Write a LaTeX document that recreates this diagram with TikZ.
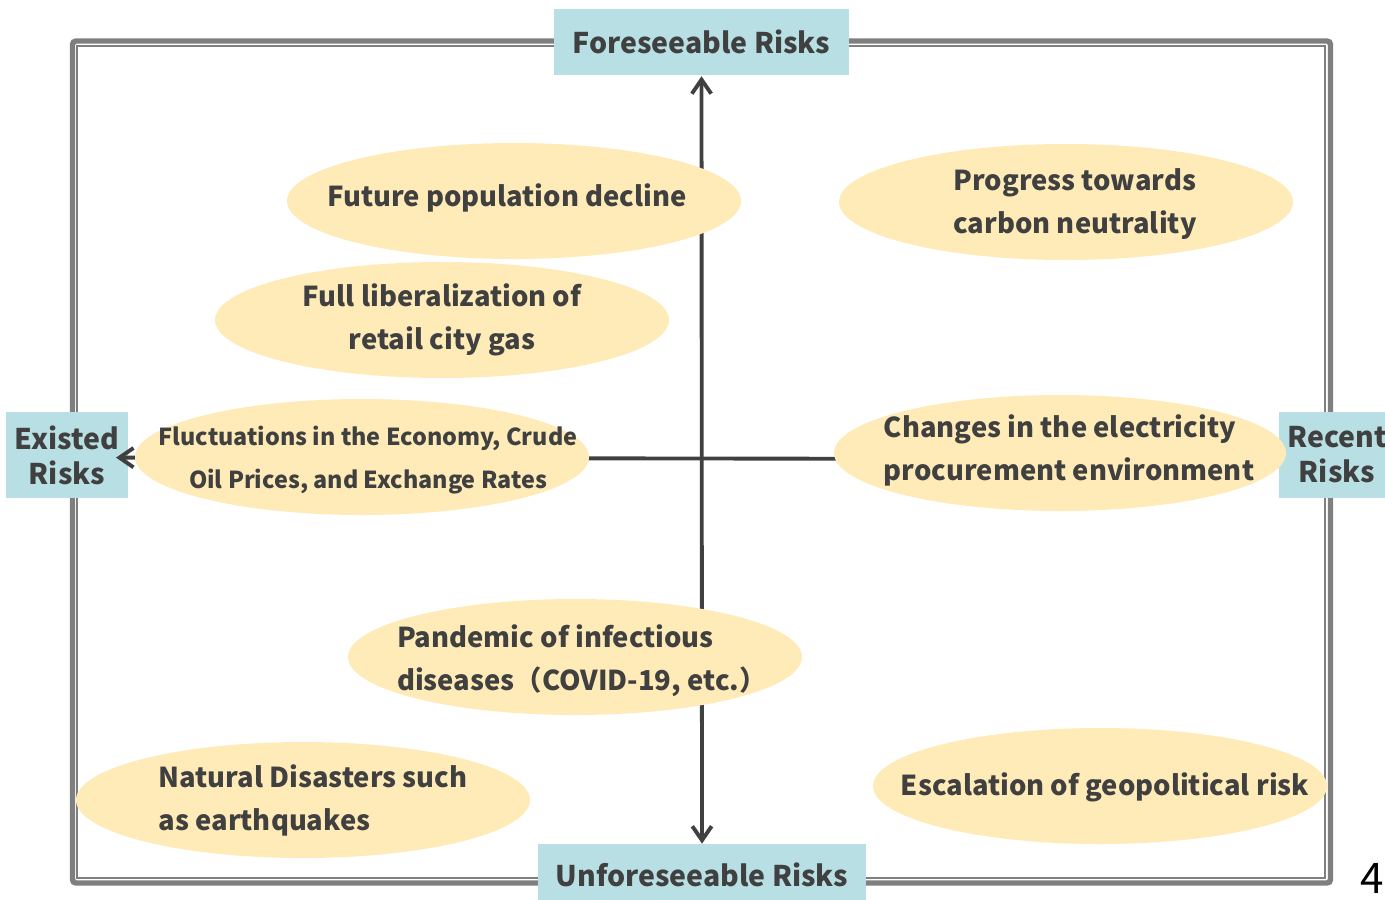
\documentclass[tikz,border=0pt]{standalone}
\usepackage{fontspec}
\setmainfont{Noto Sans CJK JP}
\usepackage{tikz}
\usetikzlibrary{arrows.meta}

\definecolor{boxteal}{HTML}{B8DFE3}
\definecolor{ovalcream}{HTML}{FFEBB8}
\definecolor{inkgray}{HTML}{404040}
\definecolor{framegray}{HTML}{7F7F7F}

\begin{document}
\begin{tikzpicture}[x=0.02cm, y=-0.02cm,
    riskbox/.style   = {fill=boxteal, text=inkgray, inner sep=0pt, align=center,
                        font=\bfseries\fontsize{16.2}{20}\selectfont},
    oval/.style      = {fill=ovalcream},
    ovaltext/.style  = {text=inkgray, inner sep=0pt,
                        font=\bfseries\fontsize{15.6}{24.5}\selectfont},
    axis/.style      = {draw=inkgray, line width=2.2pt,
                        >={Straight Barb[length=8pt,width=11pt]}}]

       \useasboundingbox             (0,0) rectangle (1385,899);

        \draw [framegray, line width=3.1pt, rounded corners=2pt]  (72.5,41) rectangle (1330.5,883);
        \draw [framegray, line width=1.1pt]                        (77,46)   rectangle (1325,878);

        \node [riskbox, minimum width=5.9cm,  minimum height=1.32cm] (foresee)   at (701.5,42)  {Foreseeable Risks};
        \node [riskbox, minimum width=6.56cm, minimum height=1.24cm] (unforesee) at (702,875)   {Unforeseeable Risks};
        \node [riskbox, minimum width=2.44cm, minimum height=1.72cm] (existed)   at (67,455)    {Existed\\Risks};
        \node [riskbox, minimum width=2.32cm, minimum height=1.72cm] (recent)    at (1337,455)  {Recent\\Risks};

        \draw [axis, <->, shorten <=0.5pt, shorten >=0pt]  (foresee.south) -- (unforesee.north);
        \draw [axis, ->, shorten >=-7pt]                   ([yshift=-2.5pt]recent.west) -- ([yshift=-1.5pt]existed.east);

        % ovals
        \fill [oval] (514,201)  ellipse [x radius=227, y radius=58];
        \fill [oval] (1066,202) ellipse [x radius=227, y radius=58];
        \fill [oval] (442,320)  ellipse [x radius=227, y radius=58];
        \fill [oval] (362,457)  ellipse [x radius=227, y radius=58];
        \fill [oval] (1060,453) ellipse [x radius=226, y radius=58];
        \fill [oval] (575,657)  ellipse [x radius=227, y radius=58];
        \fill [oval] (303,800)  ellipse [x radius=227, y radius=58];
        \fill [oval] (1100,786) ellipse [x radius=227, y radius=58];

        \node [ovaltext]                 (decline)   at (507,198)   {Future population decline};
        \node [ovaltext, align=left]     (carbon)    at (1075,204)  {Progress towards\\carbon neutrality};
        \node [ovaltext, align=center]   (citygas)   at (442,320)   {Full liberalization of\\retail city gas};
        \node [ovaltext, align=center,
               font=\bfseries\fontsize{13.3}{24}\selectfont]
                                         (economy)   at (368,460)   {Fluctuations in the Economy, Crude\\Oil Prices, and Exchange Rates};
        \node [ovaltext, align=left]     (procure)   at (1069,450)  {Changes in the electricity\\procurement environment};
        \node [ovaltext, align=left]     (pandemic)  at (582,661)   {Pandemic of infectious\\diseases（COVID-19, etc.）};
        \node [ovaltext, align=left]     (disaster)  at (313,800)   {Natural Disasters such\\as earthquakes};
        \node [ovaltext]                 (geopol)    at (1105,787)  {Escalation of geopolitical risk};

        \node [font=\fontsize{24}{24}\selectfont] (pagenum) at (1372,878) {4};

\end{tikzpicture}
\end{document}
